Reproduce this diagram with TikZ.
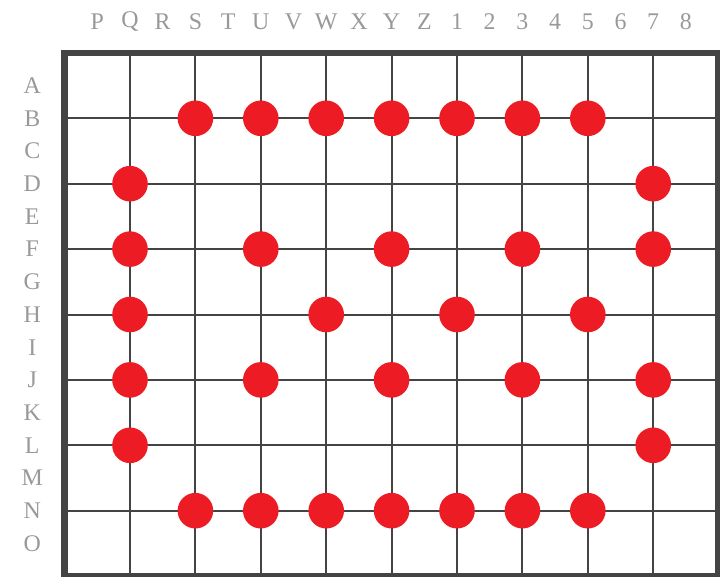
\documentclass[tikz,border=0pt]{standalone}
\usepackage{fontspec}
\setmainfont{Liberation Serif}
\usetikzlibrary{calc}
\definecolor{gridc}{HTML}{444444}
\definecolor{labc}{HTML}{999999}
\definecolor{dotc}{HTML}{ED1C24}
\begin{document}
\begin{tikzpicture}[x=1bp,y=-1bp,
  gridline/.style={draw=gridc,line width=2bp},
  frameline/.style={draw=gridc,line width=6.5bp},
  dot/.style={circle,fill=dotc,draw=none,minimum size=35.6bp,inner sep=0pt},
  lab/.style={text=labc,font=\fontsize{24}{24}\selectfont,inner sep=0pt,anchor=center}]
\useasboundingbox (0,0) rectangle (720,577);
\clip (0,0) rectangle (720,577);
\def\gx{130}\def\gy{118.3}\def\st{65.4}
% grid lines
\foreach \c in {0,...,8}
  \draw[gridline] ({\gx+\st*\c},52.9) -- ({\gx+\st*\c},576.4);
\foreach \r in {0,...,6}
  \draw[gridline] (64.6,{\gy+\st*\r}) -- (718.6,{\gy+\st*\r});
% frame
\draw[frameline] (64.6,52.9) rectangle (718.6,576.4);
% top labels
\foreach \t [count=\i from 0] in {P,Q,R,S,T,U,V,W,X,Y,Z,1,2,3,4,5,6,7,8}
  \node[lab] (top\i) at ({97.3+32.7*\i},21.5) {\t};
% left labels
\foreach \t [count=\i from 0] in {A,B,C,D,E,F,G,H,I,J,K,L,M,N,O}
  \node[lab] (left\i) at (32.3,{85.6+32.7*\i}) {\t};
% dots
\foreach \r/\cols in {0/{1,2,3,4,5,6,7},1/{0,8},2/{0,2,4,6,8},3/{0,3,5,7},4/{0,2,4,6,8},5/{0,8},6/{1,2,3,4,5,6,7}}
  \foreach \c in \cols
    \node[dot] (d\r-\c) at ({\gx+\st*\c},{\gy+\st*\r}) {};
\end{tikzpicture}
\end{document}
